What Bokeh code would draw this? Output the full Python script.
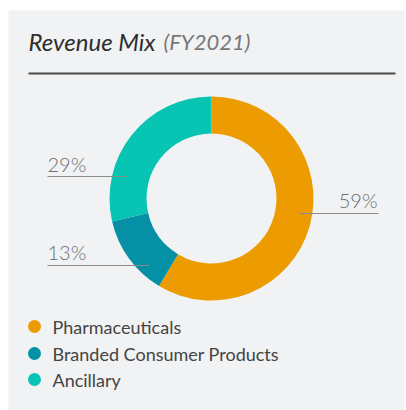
import math
from bokeh.plotting import figure
from bokeh.models import Range1d, ColumnDataSource
from bokeh.core.properties import value
from bokeh.embed import file_html
from bokeh.resources import INLINE

# ---- data ----
categories = ["Pharmaceuticals", "Branded Consumer Products", "Ancillary"]
shares = [58.6, 12.8, 28.6]
colors = ["#ec9c00", "#0590a6", "#07c4b3"]
title_main = "Revenue Mix"
title_sub = "(FY2021)"

# ---- layout constants (pixels) ----
FW, FH = 396, 400          # grey panel size
BG = "#f1f2f4"
CX, CY = 203, 212
R_IN, R_OUT = 65, 102
FONT = "Lato"

p = figure(width=406, height=410, output_backend="svg", toolbar_location=None,
           x_range=Range1d(0, FW), y_range=Range1d(0, FH),
           min_border_left=8, min_border_right=2, min_border_top=10,
           min_border_bottom=0,
           background_fill_color=BG, border_fill_color="white")
p.axis.visible = False
p.grid.visible = False
p.outline_line_color = None

# donut
total = sum(shares)
starts, ends = [], []
cum = 0.0
for s in shares:
    starts.append(math.pi / 2 - 2 * math.pi * cum / total)
    cum += s
    ends.append(math.pi / 2 - 2 * math.pi * cum / total)
src = ColumnDataSource(dict(start=starts, end=ends, color=colors))
p.annular_wedge(x=CX, y=CY, inner_radius=R_IN, outer_radius=R_OUT,
                start_angle="start", end_angle="end", direction="clock",
                fill_color="color", line_color=None, source=src)

# percentage labels with leader lines (layout positions per slice)
label_layout = [  # text x, text middle y, align, line x0, line x1, line y
    (369, 210.5, "right", 291, 370, 197),
    (39, 158.5, "left", 39, 141, 145),
    (39, 246.5, "left", 39, 118, 234),
]
for s, (tx, ty, al, lx0, lx1, ly) in zip(shares, label_layout):
    p.line([lx0, lx1], [ly, ly], line_color="#8a8a8a", line_width=1.2)
    p.text(x=[tx], y=[ty], text=[f"{round(s)}%"], text_align=al,
           text_baseline="middle", text_font=value("Lato Light"),
           text_font_size="20px", text_color="#6e6e6e")

# title
p.text(x=[20], y=[369], text=[title_main], text_font=value(FONT),
       text_font_style="italic", text_font_size="24px", text_color="#2e2e2e",
       text_baseline="middle")
p.text(x=[155], y=[369], text=[title_sub], text_font=value(FONT),
       text_font_style="italic", text_font_size="22px", text_color="#777777",
       text_baseline="middle")
p.line([20, 387], [337, 337], line_color="#4a4a4a", line_width=2)

# legend
ly = [84, 57, 31]
p.scatter(x=[26] * 3, y=ly, marker="circle", size=13, fill_color=colors,
          line_color=None)
p.text(x=[44] * 3, y=ly, text=categories, text_font=value(FONT),
       text_font_size="18px", text_color="#444444", text_baseline="middle")

open("out.html", "w").write(file_html(p, INLINE))
